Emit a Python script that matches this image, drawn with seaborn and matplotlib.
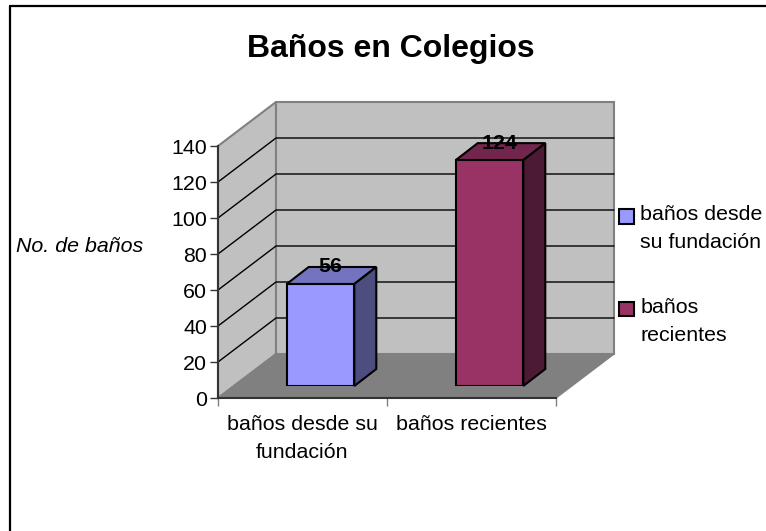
import matplotlib
matplotlib.use("Agg")
import matplotlib.pyplot as plt
import pandas as pd
import seaborn as sns
from matplotlib.lines import Line2D
from matplotlib.patches import Patch, Polygon
from matplotlib.transforms import IdentityTransform

categories = ["baños desde su\nfundación", "baños recientes"]
legend_labels = ["baños desde\nsu fundación", "baños\nrecientes"]
values = [56, 124]
y_ticks = [0, 20, 40, 60, 80, 100, 120, 140]
face_colors = ["#9999FF", "#993366"]
top_colors = ["#7373BF", "#73264D"]
side_colors = ["#4D4D80", "#4D1A33"]
title = "Baños en Colegios"
y_label = "No. de baños"

W, H = 766, 531
sns.set_theme(style="white")
plt.rcParams["font.family"] = ["Liberation Sans", "DejaVu Sans"]
FS = 15.4
LINE = 1.6

fig = plt.figure(figsize=(W / 100, H / 100), dpi=100, facecolor="white")


def axes_px(left, top, right, bottom):
    return fig.add_axes([left / W, 1 - bottom / H, (right - left) / W, (bottom - top) / H])


# Front plane of the box carries the axes and its scale
ax = axes_px(218, 146, 556, 398)
ax.set_facecolor("none")
ax.set_xlim(-0.5, 1.5)
ax.set_ylim(0, 140)

DEPTH = (58, 44)


def front(x, y):
    return tuple(ax.transData.transform((x, y)))


def back(x, y):
    fx, fy = front(x, y)
    return (fx + DEPTH[0], fy + DEPTH[1])


def poly(pts, target, **kw):
    target.add_patch(Polygon(pts, closed=True, transform=IdentityTransform(), clip_on=False, **kw))


x0, x1 = -0.5, 1.5
ymax = y_ticks[-1]
wall_edge = "#808080"
poly([front(x0, 0), front(x0, ymax), back(x0, ymax), back(x0, 0)], ax,
     facecolor="#C0C0C0", edgecolor=wall_edge, linewidth=1.5, zorder=0.5)
poly([back(x0, 0), back(x0, ymax), back(x1, ymax), back(x1, 0)], ax,
     facecolor="#C0C0C0", edgecolor=wall_edge, linewidth=1.5, zorder=0.6)
poly([front(x0, 0), back(x0, 0), back(x1, 0), front(x1, 0)], ax,
     facecolor="#808080", edgecolor=wall_edge, linewidth=1, zorder=0.7)

for t in y_ticks[1:-1]:
    pts = [front(x0, t), back(x0, t), back(x1, t)]
    ax.add_line(Line2D([p[0] for p in pts], [p[1] for p in pts], transform=IdentityTransform(),
                       color="black", linewidth=1, clip_on=False, zorder=0.8))

for name, spine in ax.spines.items():
    spine.set_visible(name in ("left", "bottom"))
    spine.set_color("#333333")
    spine.set_linewidth(1.5)
    spine.set_zorder(1)

ax.set_yticks(y_ticks)
ax.set_xticks([0, 1])
ax.set_xticklabels(categories, linespacing=LINE)
ax.set_xticks([-0.5, 0.5, 1.5], minor=True)
ax.tick_params(axis="y", which="major", left=True, length=6, width=1, color="#333333",
               labelsize=FS, pad=2, labelcolor="black")
ax.tick_params(axis="x", which="major", bottom=False, length=0, labelsize=FS, pad=12, labelcolor="black")
ax.tick_params(axis="x", which="minor", bottom=True, length=6, width=1, color="#808080")

# Bars stand a little behind the front plane
ax_bar = axes_px(236, 131, 574, 386)
ax_bar.set_facecolor("none")
df = pd.DataFrame({"categoria": categories, "banos": values})
sns.barplot(data=df, x="categoria", y="banos", hue="categoria", palette=face_colors,
            width=0.4, saturation=1, edgecolor="black", linewidth=1.5, legend=False,
            ax=ax_bar, zorder=3)
ax_bar.set_xlim(-0.5, 1.5)
ax_bar.set_ylim(0, 140)
ax_bar.axis("off")

BAR_DEPTH = (22, 17)
for i, bar in enumerate(ax_bar.patches):
    bx0, by0 = ax_bar.transData.transform((bar.get_x(), 0))
    bx1, by1 = ax_bar.transData.transform((bar.get_x() + bar.get_width(), bar.get_height()))
    dx, dy = BAR_DEPTH
    poly([(bx0, by1), (bx0 + dx, by1 + dy), (bx1 + dx, by1 + dy), (bx1, by1)], ax_bar,
         facecolor=top_colors[i], edgecolor="black", linewidth=1.5, zorder=2)
    poly([(bx1, by0), (bx1 + dx, by0 + dy), (bx1 + dx, by1 + dy), (bx1, by1)], ax_bar,
         facecolor=side_colors[i], edgecolor="black", linewidth=1.5, zorder=2)
    ax_bar.annotate(str(values[i]), xy=(i, values[i]), xytext=(10, 17), textcoords="offset pixels",
                    ha="center", va="center", fontsize=FS, fontweight="bold", color="black",
                    annotation_clip=False, zorder=5)

fig.text(391 / W, 1 - 49 / H, title, ha="center", va="center", fontsize=23, fontweight="bold", color="black")
fig.text(16 / W, 1 - 247 / H, y_label, ha="left", va="center", fontsize=FS, style="italic", color="black")

handles = [Patch(facecolor=c, edgecolor="black", linewidth=1.5) for c in face_colors]
leg = fig.legend(handles, legend_labels, loc="upper left", bbox_to_anchor=(619 / W, 1 - 205 / H),
                 frameon=False, fontsize=FS, borderpad=0, borderaxespad=0, handlelength=0.7,
                 handleheight=0.7, handletextpad=0.3, labelspacing=2.15, labelcolor="black")
for txt in leg.get_texts():
    txt.set_linespacing(LINE)
for h in leg.legend_handles:
    h.set_y(h.get_y() + 9)

# Outer frame, cut by the image on the right and bottom
fig.add_artist(Line2D([10 / W, 10 / W], [0, 1 - 6 / H], color="black", linewidth=1.6))
fig.add_artist(Line2D([10 / W, 1], [1 - 6 / H, 1 - 6 / H], color="black", linewidth=1.6))

fig.savefig("out.png", dpi=100, facecolor="white")
